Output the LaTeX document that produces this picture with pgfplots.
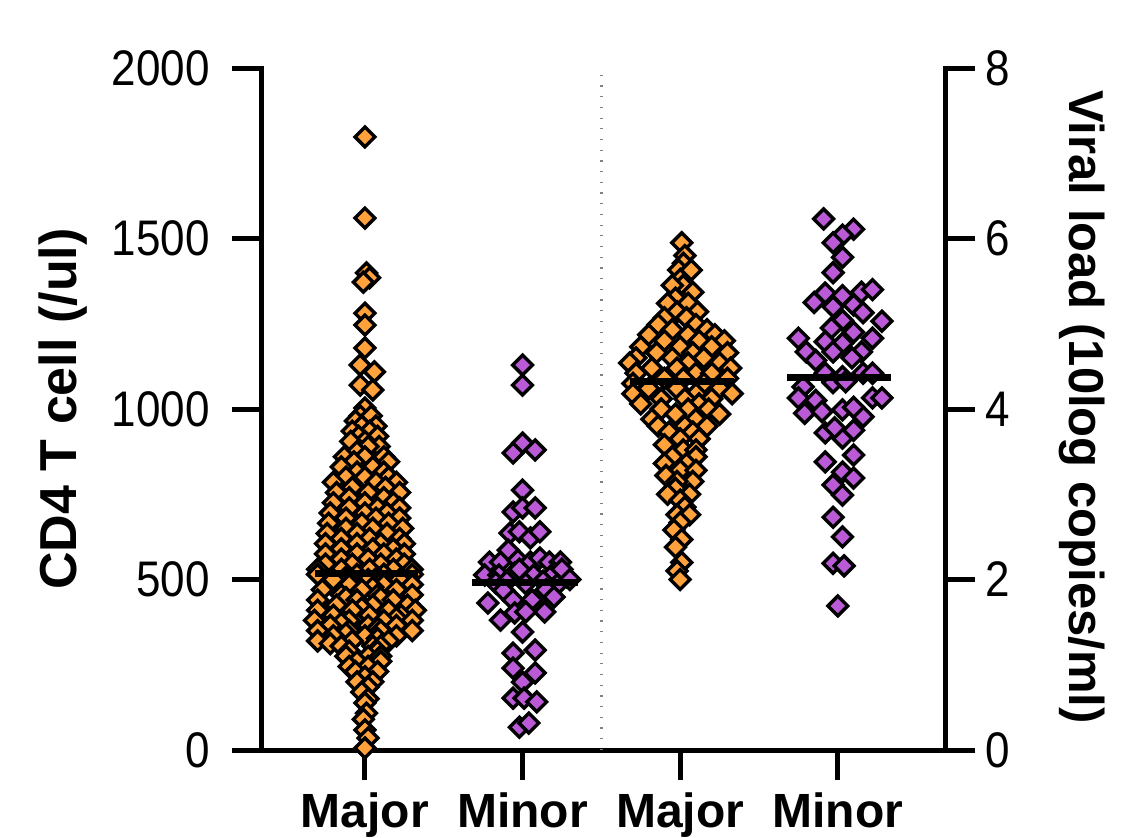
\documentclass[border=0pt]{standalone}
\usepackage{pgfplots}
\pgfplotsset{compat=1.18}
\usepackage{fontspec}
\setmainfont{Liberation Sans}
\newfontfamily\tickfont[FakeStretch=0.88]{Liberation Sans}
\definecolor{orangeC}{RGB}{255,162,60}
\definecolor{purpleC}{RGB}{186,90,214}
\pgfplotsset{
  common/.style={
    scale only axis, width=341.5pt, height=341pt,
    xmin=-0.653, xmax=3.68, clip=false, clip mode=individual,
    tick align=outside, major tick length=15pt,
    axis line style={line width=2.5pt, line cap=rect},
    tick style={line width=2.5pt, black},
    minor tick num=0,
  },
  orangeM/.style={only marks, mark=square*, mark size=3.5pt,
    mark options={rotate=45, fill=orangeC, draw=black, line width=1.7pt}},
  purpleM/.style={only marks, mark=square*, mark size=3.5pt,
    mark options={rotate=45, fill=purpleC, draw=black, line width=1.7pt}},
  medianL/.style={black, line width=3.5pt, no marks},
}
\begin{document}
\begin{tikzpicture}
\path[use as bounding box] (-131pt,-43.5pt) rectangle (429.5pt,375pt);
\begin{axis}[common,
  ymin=0, ymax=2000,
  axis x line*=bottom, axis y line*=left,
  xtick={0,1,2,3}, xticklabels={Major,Minor,Major,Minor},
  ytick={0,500,1000,1500,2000}, yticklabels={0,500,1000,1500,2000},
  xticklabel style={font=\bfseries\fontsize{24}{24}\selectfont, inner sep=0pt, anchor=north, yshift=-6pt},
  yticklabel style={font=\tickfont\fontsize{25}{25}\selectfont, inner sep=0pt, anchor=east, xshift=-11pt},
  ylabel={CD4 T cell (/ul)},
  ylabel style={font=\bfseries\fontsize{26}{26}\selectfont, at={(axis description cs:-0.2914,0.5)}, anchor=center},
]
\draw[gray, line width=1.2pt, dash pattern=on 0.6pt off 4.75pt] (axis cs:1.5,0) -- (axis cs:1.5,2000);
% Major CD4
\addplot[orangeM] coordinates {
(0,1798) (0,1560) (0.01,1399) (0.03,1385) (-0.01,1372) (0,1281) (0,1246) (0,1179)
(-0.03,1129) (0.06,1109) (-0.03,1070) (0.05,1056) (0,1003)
(-0.03,980) (0.04,980) (-0.06,965) (0.07,950) (-0.02,950) (-0.08,935) (0.03,935)
(0.08,920) (-0.04,920) (0,905) (-0.09,905) (0.09,890) (0.02,890) (-0.05,875)
(-0.13,860) (0,860) (0.12,860) (-0.07,845) (0.15,845) (0.05,830) (-0.15,830)
(-0.05,815) (0.12,815) (-0.12,800) (0,800) (0.15,800)
(-0.2,785) (0.07,785) (0.2,785) (-0.08,770) (0.13,770)
(-0.18,755) (0.02,755) (0.22,755) (-0.1,740) (0.12,740)
(-0.2,725) (0,725) (0.18,725) (-0.1,710) (0.08,710) (0.22,710)
(-0.22,695) (0,695) (0.14,695) (-0.12,680) (0.07,680) (0.22,680)
(-0.23,665) (-0.02,665) (0.15,665) (-0.12,650) (0.05,650) (0.24,650)
(-0.24,635) (-0.05,635) (0.14,635) (-0.15,620) (0.03,620) (0.22,620)
(-0.25,605) (-0.05,605) (0.1,605) (0.25,605) (-0.15,590) (0.05,590) (0.18,590)
(-0.25,575) (-0.05,575) (0.12,575) (0.25,575) (-0.15,560) (0.02,560) (0.2,560)
(-0.25,545) (-0.08,545) (0.1,545) (0.25,545) (-0.3,530) (-0.15,530) (0.03,530) (0.18,530) (0.3,530)
(-0.3,515) (-0.05,515) (0.12,515) (0.3,515) (-0.12,507) (0.08,507)
(-0.2,500) (0.02,500) (0.22,500) (-0.1,485) (0.12,485) (0.3,485) (0.05,477)
(-0.27,470) (-0.02,470) (0.2,470) (-0.15,455) (0.08,455) (0.3,455) (-0.12,447) (0.1,447)
(-0.3,440) (-0.05,440) (0.18,440) (-0.18,425) (0.05,425) (0.27,425) (-0.02,417)
(-0.3,410) (-0.08,410) (0.15,410) (0.32,410) (-0.2,395) (0.03,395) (0.23,395) (0.2,387)
(-0.32,380) (-0.1,380) (0.12,380) (0.3,380) (-0.15,372) (-0.22,365) (0.02,365) (0.2,365) (0.08,357)
(-0.3,350) (-0.1,350) (0.1,350) (0.3,350) (-0.12,342) (-0.2,335) (0,335) (0.2,335) (0.08,327)
(-0.3,320) (-0.08,320) (0.15,320) (-0.22,312) (-0.15,305) (0.05,305) (0.1,305)
(-0.1,290) (0.08,290) (-0.12,275) (0.02,275) (0.1,275) (-0.05,260) (0.1,260) (-0.1,245) (0.02,245)
(-0.06,230) (0.08,230) (0,215) (-0.05,200) (0.05,200) (0.02,185) (-0.02,170) (0.02,150)
(0,138) (0.01,108) (-0.01,90) (0,59) (0.02,35) (0,6)
};
% Minor CD4
\addplot[purpleM] coordinates {
(1.0,1129) (1.0,1070) (1.0,900) (0.94,871) (1.08,880) (1.0,762) (0.94,698) (1.0,710) (1.08,710)
(0.92,636) (0.98,640) (1.05,622) (1.11,640) (0.91,586) (0.79,551) (0.86,551) (0.97,557) (1.05,551)
(1.11,563) (1.17,551) (1.24,551) (0.76,513) (0.85,513) (0.95,519) (1.07,513) (1.2,520) (1.28,508)
(1.25,530) (0.98,530) (0.83,490) (0.9,495) (1.02,488) (1.13,495) (1.22,485) (1.3,500)
(0.88,468) (1.15,470) (0.78,431) (0.94,440) (1.06,440) (1.2,449) (0.86,381) (0.95,402) (1.14,405)
(1.02,405) (1.0,346) (0.94,284) (1.08,293) (0.94,240) (1.0,199) (1.08,226) (0.94,152) (1.01,152)
(1.09,141) (0.98,67) (1.04,79)
};
\addplot[medianL] coordinates {(-0.317,519) (0.336,519)};
\addplot[medianL] coordinates {(0.68,490) (1.35,490)};
\end{axis}
\begin{axis}[common,
  ymin=0, ymax=8,
  axis x line=none, axis y line*=right,
  ytick={0,2,4,6,8}, yticklabels={0,2,4,6,8},
  yticklabel style={font=\tickfont\fontsize{25}{25}\selectfont, inner sep=0pt, anchor=west, xshift=5pt},
  ylabel={Viral load (10log copies/ml)},
  ylabel style={font=\bfseries\fontsize{24.5}{24.5}\selectfont, at={(axis description cs:1.2006,0.503)}, anchor=center, rotate=180},
]
% Major viral load
\addplot[orangeM] coordinates {
(2.01,5.95) (2.03,5.80) (2.02,5.71) (1.99,5.63) (2.07,5.63) (2.0,5.52) (2.02,5.45) (1.95,5.45)
(2.08,5.37) (1.97,5.30) (2.05,5.24) (1.92,5.24) (2.11,5.14) (1.98,5.14) (1.9,5.07) (2.04,5.07)
(2.1,4.99) (1.86,4.99) (1.95,4.93) (2.17,4.93) (2.22,4.87) (1.8,4.87) (2.05,4.87)
(1.9,4.80) (2.12,4.80) (2.28,4.80) (1.75,4.73) (2.0,4.73) (2.2,4.73)
(1.85,4.66) (2.08,4.66) (2.3,4.66) (1.72,4.60) (1.95,4.60) (2.15,4.60)
(1.68,4.54) (2.05,4.54) (2.25,4.54) (1.82,4.48) (1.98,4.48) (2.32,4.48)
(1.72,4.42) (2.1,4.42) (2.2,4.42) (1.9,4.36) (2.02,4.36) (2.3,4.36)
(1.7,4.30) (2.15,4.30) (1.8,4.24) (1.98,4.24) (2.25,4.24)
(1.7,4.18) (2.1,4.18) (2.33,4.18) (1.88,4.12) (2.03,4.12) (2.2,4.12)
(1.75,4.06) (2.12,4.06) (1.88,4.00) (2.05,4.00) (2.18,4.00) (1.97,3.94) (2.25,3.94)
(1.82,3.88) (2.1,3.88) (1.86,3.80) (2.03,3.80) (2.17,3.80) (1.93,3.73) (2.08,3.73)
(2.0,3.65) (2.12,3.65) (1.9,3.58) (2.02,3.52) (2.1,3.52) (1.95,3.44) (2.1,3.44)
(1.9,3.36) (2.04,3.36) (2.0,3.28) (2.1,3.28) (1.91,3.22) (2.08,3.15) (1.98,3.15)
(1.97,3.07) (1.92,3.00) (2.06,3.00) (2.0,2.93) (2.03,2.85) (1.98,2.76) (2.06,2.76)
(2.0,2.67) (1.96,2.58) (2.01,2.47) (1.97,2.38) (2.01,2.20) (1.98,2.10) (2.0,2.00)
};
% Minor viral load
\addplot[purpleM] coordinates {
(2.91,6.23) (3.1,6.11) (3.03,6.04) (2.97,5.95) (3.03,5.78) (2.97,5.60) (2.92,5.36) (2.85,5.25)
(3.03,5.33) (3.15,5.37) (3.22,5.40) (2.97,5.20) (3.1,5.22) (3.16,5.13) (3.28,5.03) (3.03,5.04)
(2.96,4.95) (3.1,4.90) (2.75,4.83) (2.92,4.79) (3.03,4.77) (3.22,4.83) (2.8,4.67) (2.97,4.67)
(3.15,4.67) (2.86,4.57) (3.09,4.60) (2.92,4.42) (3.16,4.42) (3.22,4.42) (3.03,4.38) (2.78,4.26)
(2.97,4.31) (3.05,4.32) (2.75,4.13) (3.22,4.13) (3.28,4.13) (2.86,4.10) (2.79,3.95) (2.9,3.97)
(3.03,3.99) (3.16,3.91) (3.1,4.02) (2.92,3.72) (3.03,3.66) (3.1,3.75) (2.98,3.78) (2.92,3.38)
(3.1,3.46) (3.03,3.26) (3.1,3.19) (2.97,3.11) (3.03,2.99) (2.97,2.73) (3.03,2.50) (2.97,2.19)
(3.04,2.16) (3.0,1.69)
};
\addplot[medianL] coordinates {(1.68,4.32) (2.34,4.32)};
\addplot[medianL] coordinates {(2.68,4.375) (3.34,4.375)};
\end{axis}
\end{tikzpicture}
\end{document}
